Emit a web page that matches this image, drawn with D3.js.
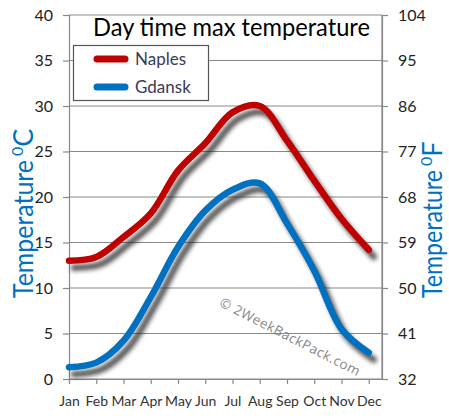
<!DOCTYPE html>
<html><head><meta charset="utf-8">
<script src="https://cdn.jsdelivr.net/npm/d3@7"></script>
<style>body{margin:0;background:#fff}svg{display:block}</style>
</head><body><div id="c"></div>
<script>
const months = ["Jan","Feb","Mar","Apr","May","Jun","Jul","Aug","Sep","Oct","Nov","Dec"];
const naples = [13, 13.4, 15.6, 18.2, 22.9, 25.9, 29.3, 30.0, 26.2, 21.8, 17.6, 14.2];
const gdansk = [1.3, 1.8, 4.2, 9.0, 14.5, 18.5, 20.8, 21.5, 17.1, 11.9, 5.5, 2.9];
const celsiusTicks = [0,5,10,15,20,25,30,35,40];
const fahrenheitTicks = [32,41,50,59,68,77,86,95,104];
const seriesNames = ["Naples","Gdansk"];
const seriesColors = ["#C00000","#0070C0"];

const W=449,H=420, L=69, R=382, T=15, B=379;
const font = "Lato, 'Open Sans', sans-serif";
const svg = d3.select("#c").append("svg").attr("width",W).attr("height",H);
const defs = svg.append("defs");
const f = defs.append("filter").attr("id","sh").attr("x","-20%").attr("y","-20%").attr("width","140%").attr("height","140%");
f.append("feGaussianBlur").attr("stdDeviation",2.2);

const step = 27.25;
const x = d3.scalePoint().domain(months).range([L, L+step*11]);
const y = d3.scaleLinear().domain([0,40]).range([B,T]);
const yF = d3.scaleLinear().domain([32,104]).range([B,T]);

// grid
svg.append("g").selectAll("line").data(celsiusTicks).join("line")
  .attr("x1",L).attr("x2",R).attr("y1",d=>y(d)).attr("y2",d=>y(d))
  .attr("stroke","#888").attr("stroke-width",1.2);
svg.append("line").attr("x1",R).attr("x2",R).attr("y1",T).attr("y2",B).attr("stroke","#888").attr("stroke-width",1.2);

// axes
const gl = svg.append("g").attr("transform",`translate(${L},0)`)
  .call(d3.axisLeft(y).tickValues(celsiusTicks).tickSize(6).tickPadding(10));
const gr = svg.append("g").attr("transform",`translate(${R},0)`)
  .call(d3.axisRight(yF).tickValues(fahrenheitTicks).tickSize(6).tickPadding(10));
const gb = svg.append("g").attr("transform",`translate(0,${B})`)
  .call(d3.axisBottom(x).tickSize(5).tickPadding(12));
gb.select(".domain").attr("d",`M${L},0.5H${R+5}`);
[gl,gr,gb].forEach(g=>{
  g.selectAll(".domain,line").attr("stroke","#888").attr("stroke-width",1.2);
  g.selectAll("text").attr("font-family",font).attr("fill","#222");
});
gl.selectAll("text").attr("font-size",16);
gr.selectAll("text").attr("font-size",16);
gb.selectAll("text").attr("font-size",14).attr("fill","#333");

// watermark
svg.append("text").attr("transform","translate(288,341) rotate(27)")
  .attr("text-anchor","middle").attr("font-family","'Open Sans', sans-serif").attr("font-size",13.5)
  .attr("fill","#888").attr("letter-spacing",0.5).text("© 2WeekBackPack.com");

// lines
const line = d3.line().x((d,i)=>x(months[i])).y(d=>y(d)).curve(d3.curveCatmullRom.alpha(0.5));
const data = [naples, gdansk];
data.forEach((vals,k)=>{
  svg.append("path").attr("d",line(vals)).attr("fill","none").attr("stroke","#222")
    .attr("stroke-opacity",0.75).attr("stroke-width",6.5).attr("stroke-linecap","round")
    .attr("filter","url(#sh)").attr("transform","translate(5,7)");
});
data.forEach((vals,k)=>{
  svg.append("path").attr("d",line(vals)).attr("fill","none").attr("stroke",seriesColors[k])
    .attr("stroke-width",6.5).attr("stroke-linecap","round").attr("stroke-linejoin","round");
});

// title
svg.append("text").attr("x",93).attr("y",36).attr("font-family",font).attr("font-size",25)
  .attr("fill","#000").attr("textLength",277).attr("lengthAdjust","spacingAndGlyphs")
  .text("Day time max temperature");

// legend
svg.append("rect").attr("x",73.5).attr("y",45.5).attr("width",135).attr("height",55)
  .attr("fill","#fff").attr("stroke","#555").attr("stroke-width",1.2);
seriesNames.forEach((n,i)=>{
  const yy = 59 + i*28;
  svg.append("line").attr("x1",97).attr("x2",125).attr("y1",yy).attr("y2",yy)
    .attr("stroke",seriesColors[i]).attr("stroke-width",7).attr("stroke-linecap","round");
  svg.append("text").attr("x",135).attr("y",yy+6).attr("font-family",font).attr("font-size",17)
    .attr("fill","#3a3a55").text(n);
});

// axis titles
const lt = svg.append("text").attr("transform","translate(33,298) rotate(-90)")
  .attr("font-family",font).attr("font-size",27).attr("fill","#0070C0");
lt.append("tspan").attr("textLength",138).attr("lengthAdjust","spacingAndGlyphs").text("Temperature");
lt.append("tspan").attr("dx",4).attr("dy",-10).attr("font-size",16).text("0");
lt.append("tspan").attr("dy",10).text("C");

const rt = svg.append("text").attr("transform","translate(442,298) rotate(-90)")
  .attr("font-family",font).attr("font-size",27).attr("fill","#0070C0");
rt.append("tspan").attr("textLength",128).attr("lengthAdjust","spacingAndGlyphs").text("Temperature");
rt.append("tspan").attr("dx",4).attr("dy",-10).attr("font-size",16).text("0");
rt.append("tspan").attr("dy",10).text("F");
</script></body></html>
